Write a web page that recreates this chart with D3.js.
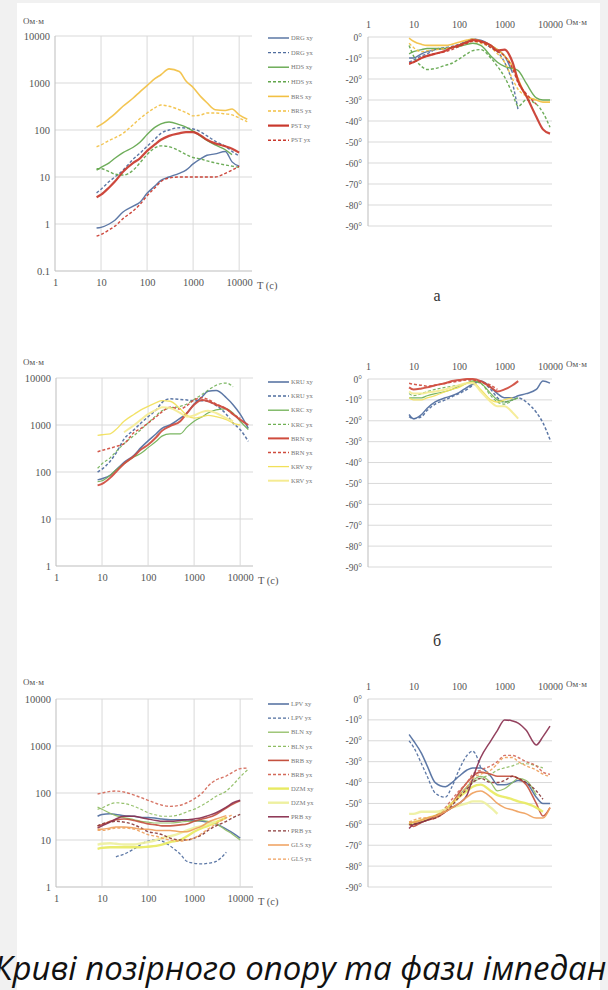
<!DOCTYPE html>
<html><head><meta charset="utf-8">
<script src="https://cdn.jsdelivr.net/npm/d3@7"></script>
<style>body{margin:0;background:#f1f1f1}svg{display:block}</style>
</head><body><svg id="fig" width="608" height="990"></svg>
<script>
// Periods T (s) shared by all curves
const periods = [8,10,15,20,30,50,70,100,150,200,300,500,700,1000,1500,2000,3000,5000,7000,10000,15000];
const periodTicks = [1,10,100,1000,10000];
const phaseTicks = [0,-10,-20,-30,-40,-50,-60,-70,-80,-90];
const rhoTicksA = [0.1,1,10,100,1000,10000];
const rhoTicksBC = [1,10,100,1000,10000];

// ---- group а: apparent resistivity, Ohm·m
const drgXyRho = [0.82,0.85,1.0,1.2,1.8,2.4,2.9,4.5,6.5,8.5,10,12,14,19,25,29,31,35,21,17,null];
const drgYxRho = [4.6,5.5,8,10,14,24,32,45,65,85,100,112,110,105,90,75,58,45,35,28,null];
const hdsXyRho = [14,16,20,25,33,43,55,80,115,135,148,130,115,95,72,60,48,38,30,null,null];
const hdsYxRho = [15,15,13,11.5,11,14,20,30,42,46,44,36,30,26,24,22,20,18,17,16,null];
const brsXyRho = [115,130,175,220,320,480,650,880,1250,1500,2000,1750,1100,800,500,380,270,260,280,210,170];
const brsYxRho = [44,48,60,68,85,130,175,230,300,340,320,270,235,200,210,230,230,220,210,180,150];
const pstXyRho = [3.7,4.2,6,8,13,20,25,36,50,62,75,85,90,90,75,62,52,45,40,33,null];
const pstYxRho = [0.55,0.6,0.75,0.9,1.3,1.9,2.6,4,6,8,9.5,10,10,10,10,10,10,12,14,17,null];
// ---- group а: impedance phase, degrees
const drgXyPh = [-10,-10,-8,-7,-6,-5.5,-5,-4,-2,-1,-1.5,-4,-6,-9,-17,null,null,null,null,null,null];
const drgYxPh = [-12,-11,-9,-8,-6,-5,-4.5,-3.5,-2,-1,-2,-5,-7,-12,-22,-35,null,null,null,null,null];
const hdsXyPh = [-8,-7,-6,-5.5,-5.5,-5.5,-5,-4.5,-3.5,-3,-4,-9,-12,-14,-15,-16,-22,-29,-30,-30,null];
const hdsYxPh = [-4,-9,-14,-15.5,-15,-13.5,-12.5,-10.5,-8,-6.5,-6,-10,-14,-19,-27,-33,-30,-32,-36,-43,null];
const brsXyPh = [-0.5,-2,-3.5,-4,-4,-4,-3.5,-2.5,-1.5,-1,-2,-4,-6,-9,-14,-20,-28,-30,-31,-31,null];
const brsYxPh = [-3,-5,-7,-6.5,-6,-5.5,-5,-4,-2.5,-2,-3,-5,-8,-12,-20,-25,-28,-30,null,null,null];
const pstXyPh = [-12.5,-12,-10,-9,-8,-6.5,-5,-4,-2.5,-1.5,-2,-4,-6.5,-6,-12,-21,-28,-38,-44,-46,null];
const pstYxPh = [-13,-12,-10,-9,-8,-7,-6,-4.5,-3,-2,-2.5,-5,-7,-9,-15,-22,-27,-32,null,null,null];

// ---- group б
const kruXyRho = [68,72,85,110,160,230,330,460,650,850,1000,1400,1800,2800,4000,5200,5400,3800,2700,1700,850];
const kruYxRho = [100,115,170,250,500,800,1100,1500,2100,3000,3600,3500,3400,3300,3300,3200,2600,1700,1100,800,450];
const krcXyRho = [62,65,85,110,150,210,250,330,450,580,650,650,900,1200,1500,1800,2100,2200,1800,1200,800];
const krcYxRho = [120,150,200,270,400,600,800,1100,1600,2000,2300,2500,2800,3500,4500,5500,7000,7800,6500,null,null];
const brnXyRho = [52,56,75,100,150,220,300,380,550,750,950,1200,1800,2700,3400,3200,2700,2200,1700,1300,1000];
const brnYxRho = [270,290,320,350,400,700,850,1100,1500,1900,2400,2200,2600,3400,3800,3500,2800,2200,1700,1400,null];
const krvXyRho = [600,620,650,800,1200,1700,2100,2500,3000,3300,3200,2200,1600,1400,1500,1600,1500,1300,1100,1000,null];
const krvYxRho = [null,null,null,null,700,1000,1300,1700,2100,2400,2300,1800,1500,1600,1900,2000,1800,1400,1200,null,null];
const kruXyPh = [-17,-19,-17,-14,-11,-9,-8,-6.5,-4,-2.5,-1,-4,-7,-9,-9,-8,-7,-5,-1,-2,null];
const kruYxPh = [-18,-19,-18,-15,-12,-10,-8.5,-7,-5,-3,-1.5,-5,-9,-11,-10,-9,-11,-16,-21,-29,null];
const krcXyPh = [-9,-9,-9,-8,-7,-6,-5,-3.5,-2,-1,-2,-7,-10,-11,-10,-9,null,null,null,null,null];
const krcYxPh = [-7,-8,-7,-6,-5,-4,-3.5,-3,-2,-1,-2,-8,-11,-12,-10,null,null,null,null,null,null];
const brnXyPh = [-4,-5,-4.5,-4,-3,-2,-1,-0.5,0,0,-1,-4,-6,-5,-3,-1,null,null,null,null,null];
const brnYxPh = [-2,-2.5,-3,-3.5,-3,-2,-1.5,-1,-0.5,-0.5,-1.5,-3,-5,null,null,null,null,null,null,null,null];
const krvXyPh = [-9,-10,-10,-9,-8,-6,-5,-4,-2,-1.5,-5,-10,-11,-10,-9,null,null,null,null,null,null];
const krvYxPh = [-6,-7,-7,-6.5,-6,-5,-4,-3,-2,-2,-6,-11,-13,-13,-16,-19,null,null,null,null,null];

// ---- group в
const lpvXyRho = [32,35,36,35,33,32,30,30,29,28,27,27,27,26,25,24,22,17,14,11,null];
const lpvYxRho = [null,null,null,4.4,5,6.5,8,9.5,10,9.5,7.5,5,3.5,3.2,3.1,3.2,3.5,5.5,null,null,null];
const blnXyRho = [50,45,37,33,30,27,25,24,23,23,23,24,25,25,26,25,22,16,13,10,null];
const blnYxRho = [45,48,58,62,60,52,45,38,34,32,32,35,40,45,55,65,85,110,150,220,320];
const brbXyRho = [20,21,25,27,28,26,24,22,21,20,20,21,22,25,28,30,35,48,58,68,null];
const brbYxRho = [95,100,108,110,105,90,80,70,60,55,52,55,62,75,100,140,190,230,280,330,340];
const dzmXyRho = [6.5,6.8,7,7,7,7,7,7.2,7.5,8,9,10,12,15,18,20,24,30,null,null,null];
const dzmYxRho = [8,8.3,8.5,8.3,8,8,8.5,9,10,11,12,14,16,18,20,22,25,null,null,null,null];
const prbXyRho = [18,20,24,28,32,32,30,28,26,25,25,26,27,28,30,33,38,50,62,70,null];
const prbYxRho = [20,22,24,25,24,21,18,15,14,13,11,10,10,11,13,16,20,25,30,35,null];
const glsXyRho = [17,17,18,19,19,18,17,17,16,16,16,15,15,17,20,24,28,33,null,null,null];
const glsYxRho = [16,16,17,18,18,17,15,13,12,11,10,9.5,10,11,14,17,22,30,35,null,null];
const lpvXyPh = [-17,-20,-26,-32,-40,-42,-40,-37,-34,-33,-33,-37,-41,-41,-40,-39,-40,-47,-50,-50,null];
const lpvYxPh = [-20,-23,-31,-37,-45,-47,-42,-34,-27,-25,-33,null,null,null,null,null,null,null,null,null,null];
const blnXyPh = [-60,-60,-59,-58,-56,-53,-50,-46,-42,-39,-37,-40,-44,-43,-40,-38,-39,-46,null,null,null];
const blnYxPh = [-59,-59,-58,-57,-56,-53,-50,-46,-43,-40,-38,-36,-34,-33,-32,-31,-31,-32,-33,null,null];
const brbXyPh = [-60,-61,-59,-58,-57,-54,-50,-45,-40,-37,-35,-36,-37,-37,-37,-38,-41,-50,-56,-52,null];
const brbYxPh = [-60,-59,-58,-57,-56,-52,-48,-44,-40,-36,-34,-32,-30,-27,-27,-28,-30,-32,-35,-36,null];
const dzmXyPh = [-60,-59,-58,-57,-56,-53,-50,-47,-44,-42,-41,-44,-46,-47,-48,-49,-50,-52,-54,null,null];
const dzmYxPh = [-55,-55,-54,-54,-54,-53,-52,-51,-50,-49,-49,-52,-55,null,null,null,null,null,null,null,null];
const prbXyPh = [-62,-60,-59,-58,-56,-54,-52,-50,-46,-38,-28,-20,-15,-10,-10.5,-11.5,-15,-22,-18,-13,null];
const prbYxPh = [-60,-60,-59,-58,-57,-54,-51,-47,-43,-40,-38,-40,-40,-39,-37,-38,-40,-44,-48,null,null];
const glsXyPh = [-59,-59,-58,-57,-56,-54,-52,-50,-47,-45,-44,-47,-50,-52,-53,-54,-55,-57,-57,-52,null];
const glsYxPh = [-59,-58,-57,-57,-56,-53,-50,-46,-42,-38,-36,-34,-31,-28,-28,-30,-32,-34,-36,-37,null];

const DASH = "3,2";
const seriesA = [
  {name:"DRG xy", color:"#4f6d9e", dash:null, w:1.4, rho:drgXyRho, ph:drgXyPh},
  {name:"DRG yx", color:"#4f6d9e", dash:DASH, w:1.4, rho:drgYxRho, ph:drgYxPh},
  {name:"HDS xy", color:"#62a64c", dash:null, w:1.4, rho:hdsXyRho, ph:hdsXyPh},
  {name:"HDS yx", color:"#62a64c", dash:DASH, w:1.4, rho:hdsYxRho, ph:hdsYxPh},
  {name:"BRS xy", color:"#f2c043", dash:null, w:1.6, rho:brsXyRho, ph:brsXyPh},
  {name:"BRS yx", color:"#f2c043", dash:DASH, w:1.4, rho:brsYxRho, ph:brsYxPh},
  {name:"PST xy", color:"#c9382d", dash:null, w:2.2, rho:pstXyRho, ph:pstXyPh},
  {name:"PST yx", color:"#c9382d", dash:DASH, w:1.4, rho:pstYxRho, ph:pstYxPh}
];
const seriesB = [
  {name:"KRU xy", color:"#4f6d9e", dash:null, w:1.5, rho:kruXyRho, ph:kruXyPh},
  {name:"KRU yx", color:"#4f6d9e", dash:DASH, w:1.5, rho:kruYxRho, ph:kruYxPh},
  {name:"KRC xy", color:"#6fb054", dash:null, w:1.2, rho:krcXyRho, ph:krcXyPh},
  {name:"KRC yx", color:"#6fb054", dash:DASH, w:1.2, rho:krcYxRho, ph:krcYxPh},
  {name:"BRN xy", color:"#cf4b3d", dash:null, w:2, rho:brnXyRho, ph:brnXyPh},
  {name:"BRN yx", color:"#cf4b3d", dash:DASH, w:1.5, rho:brnYxRho, ph:brnYxPh},
  {name:"KRV xy", color:"#f1e05a", dash:null, w:1.3, rho:krvXyRho, ph:krvXyPh},
  {name:"KRV yx", color:"#f5eb92", dash:null, w:2, rho:krvYxRho, ph:krvYxPh}
];
const seriesC = [
  {name:"LPV xy", color:"#4f6d9e", dash:null, w:1.5, rho:lpvXyRho, ph:lpvXyPh},
  {name:"LPV yx", color:"#4f6d9e", dash:DASH, w:1.3, rho:lpvYxRho, ph:lpvYxPh},
  {name:"BLN xy", color:"#8fbd63", dash:null, w:1.2, rho:blnXyRho, ph:blnXyPh},
  {name:"BLN yx", color:"#8fbd63", dash:DASH, w:1.2, rho:blnYxRho, ph:blnYxPh},
  {name:"BRB xy", color:"#c4513f", dash:null, w:1.6, rho:brbXyRho, ph:brbXyPh},
  {name:"BRB yx", color:"#d46a5a", dash:DASH, w:1.4, rho:brbYxRho, ph:brbYxPh},
  {name:"DZM xy", color:"#e8ea62", dash:null, w:2.4, rho:dzmXyRho, ph:dzmXyPh},
  {name:"DZM yx", color:"#eef0a0", dash:null, w:2.4, rho:dzmYxRho, ph:dzmYxPh},
  {name:"PRB xy", color:"#8a3150", dash:null, w:1.5, rho:prbXyRho, ph:prbXyPh},
  {name:"PRB yx", color:"#8a3a3a", dash:DASH, w:1.4, rho:prbYxRho, ph:prbYxPh},
  {name:"GLS xy", color:"#ef9f5c", dash:null, w:1.5, rho:glsXyRho, ph:glsXyPh},
  {name:"GLS yx", color:"#ef9f5c", dash:DASH, w:1.4, rho:glsYxRho, ph:glsYxPh}
];

const SERIF = "'Liberation Serif','DejaVu Serif',serif";
const GRID = "#d9d9d9", AXIS = "#bdbdbd", TXT = "#555";

const svg = d3.select("#fig");
svg.append("rect").attr("width",608).attr("height",990).attr("fill","#f1f1f1");
svg.append("rect").attr("x",17).attr("y",3).attr("width",583).attr("height",987).attr("fill","#fff");

function styleText(sel, size){
  sel.attr("font-family",SERIF).attr("font-size",size).attr("fill",TXT);
}

function rhoPanel(cfg, series){
  const g = svg.append("g");
  const x = d3.scaleLog().domain([1,19000]).range([cfg.left,cfg.right]);
  const y = d3.scaleLog().domain([cfg.ticks[0],10000]).range([cfg.bottom,cfg.top]);
  g.selectAll(null).data(cfg.ticks).join("line")
    .attr("x1",cfg.left).attr("x2",cfg.right).attr("y1",d=>y(d)).attr("y2",d=>y(d))
    .attr("stroke",d=>d===cfg.ticks[0]?AXIS:GRID).attr("stroke-width",1);
  g.selectAll(null).data(periodTicks).join("line")
    .attr("x1",d=>x(d)).attr("x2",d=>x(d)).attr("y1",cfg.top).attr("y2",cfg.bottom)
    .attr("stroke",d=>d===1?AXIS:GRID).attr("stroke-width",1);
  const ay = g.append("g").attr("transform",`translate(${cfg.left-5},0)`)
    .call(d3.axisLeft(y).tickValues(cfg.ticks).tickFormat(d=>String(d)).tickSize(0).tickPadding(0));
  ay.select(".domain").remove();
  styleText(ay.selectAll("text"),10.5);
  const ax = g.append("g").attr("transform",`translate(0,${cfg.bottom+8})`)
    .call(d3.axisBottom(x).tickValues(periodTicks).tickFormat(d=>String(d)).tickSize(0).tickPadding(0));
  ax.select(".domain").remove();
  styleText(ax.selectAll("text"),10.5);
  styleText(g.append("text").attr("x",cfg.right+5).attr("y",cfg.bottom+18).text("T (c)"),10.5);
  styleText(g.append("text").attr("x",23).attr("y",cfg.unitY).text("Ом·м"),9);

  const line = d3.line().defined(d=>d[1]!=null).x(d=>x(d[0])).y(d=>y(d[1])).curve(d3.curveMonotoneX);
  series.forEach(s=>{
    g.append("path").datum(periods.map((p,i)=>[p,s.rho[i]])).attr("d",line)
      .attr("fill","none").attr("stroke",s.color).attr("stroke-width",s.w)
      .attr("stroke-dasharray",s.dash).attr("stroke-linejoin","round").attr("opacity",0.92);
  });
  // legend
  const lg = g.append("g");
  series.forEach((s,i)=>{
    const yy = cfg.legendY + i*cfg.legendStep;
    lg.append("line").attr("x1",268).attr("x2",289).attr("y1",yy).attr("y2",yy)
      .attr("stroke",s.color).attr("stroke-width",Math.max(1.3,s.w)).attr("stroke-dasharray",s.dash);
    lg.append("text").attr("x",291).attr("y",yy+2.2).text(s.name)
      .attr("font-family",SERIF).attr("font-size",6.5).attr("fill","#777");
  });
}

function phasePanel(cfg, series){
  const g = svg.append("g");
  const x = d3.scaleLog().domain([1,10000]).range([cfg.left,cfg.right]);
  const y = d3.scaleLinear().domain([-90,0]).range([cfg.bottom,cfg.top]);
  g.selectAll(null).data(phaseTicks).join("line")
    .attr("x1",cfg.left).attr("x2",cfg.right+2).attr("y1",d=>y(d)).attr("y2",d=>y(d))
    .attr("stroke",GRID).attr("stroke-width",1);
  g.append("line").attr("x1",cfg.left).attr("x2",cfg.left).attr("y1",cfg.top).attr("y2",cfg.bottom)
    .attr("stroke",AXIS);
  const ay = g.append("g").attr("transform",`translate(${cfg.left-6},0)`)
    .call(d3.axisLeft(y).tickValues(phaseTicks).tickFormat(d=>d+"°").tickSize(0).tickPadding(0));
  ay.select(".domain").remove();
  styleText(ay.selectAll("text"),9.5);
  const ax = g.append("g").attr("transform",`translate(0,${cfg.top-9})`)
    .call(d3.axisTop(x).tickValues(periodTicks).tickFormat(d=>String(d)).tickSize(0).tickPadding(0));
  ax.select(".domain").remove();
  styleText(ax.selectAll("text"),10);
  styleText(g.append("text").attr("x",cfg.right+16).attr("y",cfg.top-12).text("Ом·м"),9);

  const line = d3.line().defined(d=>d[1]!=null).x(d=>x(d[0])).y(d=>y(d[1])).curve(d3.curveMonotoneX);
  series.forEach(s=>{
    g.append("path").datum(periods.map((p,i)=>[p,s.ph[i]])).attr("d",line)
      .attr("fill","none").attr("stroke",s.color).attr("stroke-width",s.w)
      .attr("stroke-dasharray",s.dash).attr("stroke-linejoin","round").attr("opacity",0.92);
  });
}

rhoPanel({left:55,right:252,top:36,bottom:271,ticks:rhoTicksA,unitY:24,legendY:38,legendStep:14.6}, seriesA);
phasePanel({left:368,right:550,top:37,bottom:226}, seriesA);
rhoPanel({left:56,right:253,top:378,bottom:566,ticks:rhoTicksBC,unitY:365,legendY:382,legendStep:14.1}, seriesB);
phasePanel({left:368,right:550,top:379,bottom:567}, seriesB);
rhoPanel({left:56,right:253,top:699,bottom:887,ticks:rhoTicksBC,unitY:685,legendY:704,legendStep:14.1}, seriesC);
phasePanel({left:368,right:550,top:699,bottom:887}, seriesC);

svg.append("text").attr("x",437).attr("y",301).attr("text-anchor","middle")
  .attr("font-family",SERIF).attr("font-size",16).attr("fill","#333").text("а");
svg.append("text").attr("x",437).attr("y",646).attr("text-anchor","middle")
  .attr("font-family",SERIF).attr("font-size",16).attr("fill","#333").text("б");

// figure caption, running past both page edges
svg.append("text").attr("x",-6).attr("y",980)
  .attr("font-family","'Open Sans','Noto Sans',sans-serif").attr("font-style","italic")
  .attr("font-size",33).attr("fill","#111").text("Криві позірного опору та фази імпедан");
</script></body></html>
